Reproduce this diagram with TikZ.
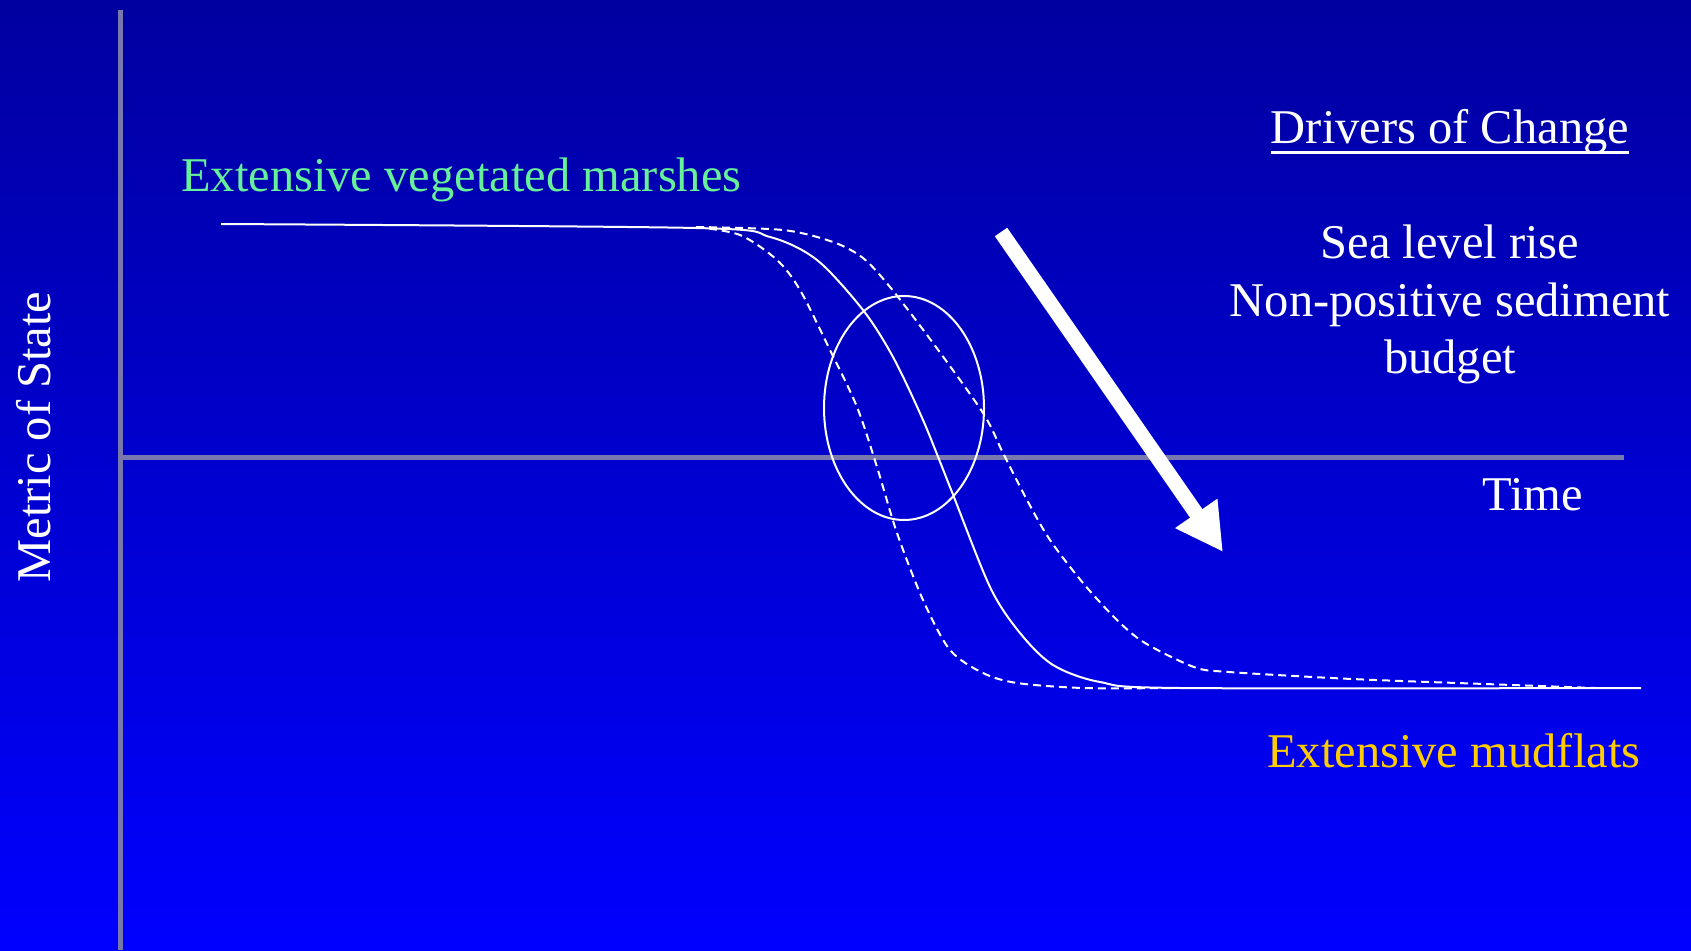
\documentclass[tikz,border=0pt]{standalone}
\usepackage{fontspec}
\setmainfont{Liberation Serif}
\usetikzlibrary{arrows.meta}

\definecolor{bgtop}{RGB}{0,0,160}
\definecolor{bgbot}{RGB}{0,0,255}
\definecolor{axisgray}{RGB}{120,120,175}
\definecolor{marshgreen}{RGB}{102,240,153}
\definecolor{mudyellow}{RGB}{255,204,0}

\tikzset{
  slidetext/.style={inner sep=0pt, font=\fontsize{48.5}{58}\selectfont},
  axisline/.style={draw=axisgray, line width=5pt},
  curve/.style={white, line width=2pt},
  dashcurve/.style={curve, dash pattern=on 8pt off 5pt},
}

\begin{document}
\begin{tikzpicture}[x=1pt,y=-1pt]
    \shade[top color=bgtop, bottom color=bgbot] (0,0) rectangle (1691,950);
    \useasboundingbox (0,0) rectangle (1691,950);

    \coordinate (ytop) at (120,10);
    \coordinate (ybot) at (120,950);
    \coordinate (xorig) at (120,457);
    \coordinate (xend) at (1624,457);
    \draw[axisline] (ytop) -- (ybot);
    \draw[axisline] (xorig) -- (xend);

    \node[slidetext, white, rotate=90, anchor=base] (metric) at (50,437) {Metric of State};
    \node[slidetext, white, anchor=base west] (time) at (1482,510) {Time};

    \node[slidetext, marshgreen, anchor=base west] (marshes) at (181,191) {Extensive vegetated marshes};
    \node[slidetext, mudyellow, anchor=base west] (mudflats) at (1267,767) {Extensive mudflats};

    \node[slidetext, white, anchor=base] (drivers) at (1450,143) {Drivers of Change};
    \draw[white, line width=3pt] ([yshift=-9pt]drivers.base west) -- ([yshift=-9pt]drivers.base east);
    \node[slidetext, white, anchor=base] (slr) at (1450,258) {Sea level rise};
    \node[slidetext, white, anchor=base] (nps) at (1450,316) {Non-positive sediment};
    \node[slidetext, white, anchor=base] (budget) at (1450,373) {budget};

    % state curves
    \draw[curve] plot[smooth, tension=0.5] coordinates {(221,224) (696,228) (770,237)
        (817,260) (863,310) (893,357) (923,420) (950,487) (990,587) (1020,633)
        (1053,665) (1100,682) (1180,688) (1641,688)};
    \draw[dashcurve] plot[smooth, tension=0.5] coordinates {(696,227) (740,235) (777,260) (800,290)
        (830,350) (857,407) (877,467) (897,533) (923,600) (950,650) (983,673) (1017,683)
        (1083,688) (1176,688)};
    \draw[dashcurve] plot[smooth, tension=0.5] coordinates {(696,227) (783,230) (833,242) (863,258)
        (890,287) (933,343) (983,413) (1003,453) (1027,500) (1050,540) (1083,583) (1117,620)
        (1145,643) (1194,667) (1229,672) (1352,679) (1485,684) (1595,688)};

    \draw[curve] (904,408) ellipse [x radius=80, y radius=112];

    \coordinate (arrstart) at (1001,232);
    \coordinate (arrtip) at (1223,552);
    \draw[white, line width=15pt, -{Triangle[length=47pt, width=48pt]}] (arrstart) -- (arrtip);
\end{tikzpicture}
\end{document}
